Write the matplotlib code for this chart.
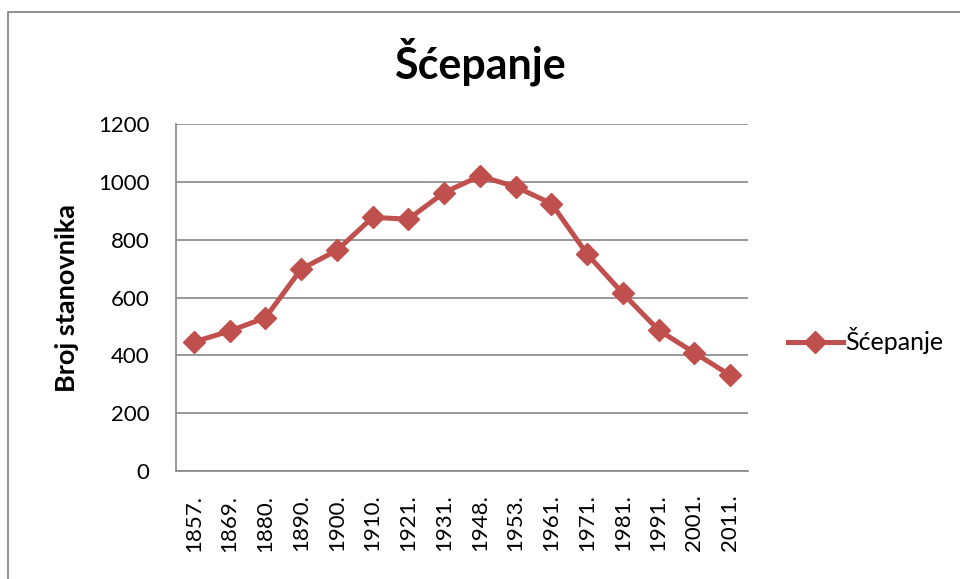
import matplotlib.pyplot as plt
from matplotlib.patches import Rectangle

plt.rcParams['font.family'] = ['Lato', 'DejaVu Sans']

years = ['1857.', '1869.', '1880.', '1890.', '1900.', '1910.', '1921.', '1931.',
         '1948.', '1953.', '1961.', '1971.', '1981.', '1991.', '2001.', '2011.']
population = [446, 484, 530, 698, 763, 877, 871, 963,
              1020, 983, 925, 750, 614, 487, 409, 331]

line_color = '#C0504D'
grid_color = '#878787'

fig = plt.figure(figsize=(9.6, 5.79), dpi=100)
ax = fig.add_axes([176 / 960, 1 - 471 / 579, (748 - 176) / 960, (471 - 124) / 579])

x = range(len(years))
ax.plot(x, population, color=line_color, linewidth=3.6, marker='D',
        markersize=11, label='Šćepanje')

ax.set_xlim(-0.5, len(years) - 0.5)
ax.set_ylim(0, 1200)
ax.set_yticks(range(0, 1201, 200))
ax.set_xticks(list(x))
ax.set_xticklabels(years, rotation=90, fontsize=16)
ax.tick_params(axis='y', labelsize=16, length=0, pad=19)
ax.tick_params(axis='x', length=0, pad=17)

ax.grid(axis='y', color=grid_color, linewidth=1.2)
ax.set_axisbelow(True)
for side in ['top', 'right']:
    ax.spines[side].set_visible(False)
for side in ['left', 'bottom']:
    ax.spines[side].set_color(grid_color)
    ax.spines[side].set_linewidth(1.2)

ax.set_ylabel('Broj stanovnika', fontsize=19.5, fontweight='bold', labelpad=14)
fig.text(480 / 960, 1 - 62 / 579, 'Šćepanje', fontsize=31, fontweight='bold',
         ha='center', va='center')

ax.legend(loc='center left', bbox_to_anchor=(1.03, 0.375), frameon=False,
          fontsize=18, handlelength=2.2, handletextpad=0.1)

# outer chart border
fig.patches.append(Rectangle((8 / 960, -0.05), 1.0, 1 - 12 / 579 + 0.05,
                             transform=fig.transFigure, fill=False,
                             edgecolor='#7f7f7f', linewidth=1.2))

fig.savefig('out.png', dpi=100)
